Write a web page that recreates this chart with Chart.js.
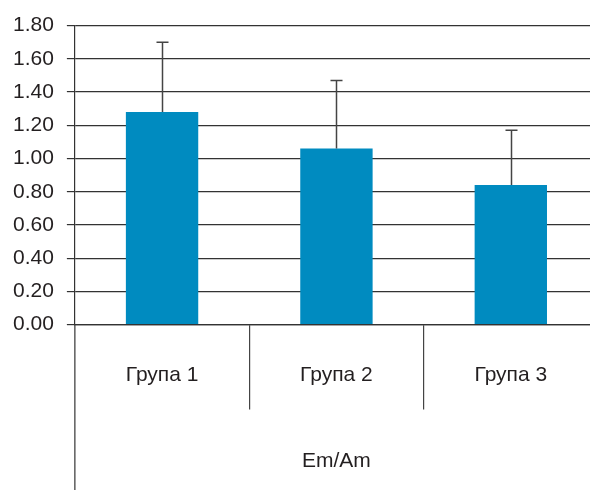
<!DOCTYPE html>
<html>
<head>
<meta charset="utf-8">
<script src="https://cdn.jsdelivr.net/npm/chart.js@4/dist/chart.umd.min.js"></script>
<style>
  html, body { margin: 0; padding: 0; background: #ffffff; overflow: hidden; }
  #wrap { width: 590px; height: 494px; overflow: hidden; }
  #chart { display: block; }
</style>
</head>
<body>
<div id="wrap"><canvas id="chart" width="598" height="494"></canvas></div>
<script>
// Groups, mean values and their upper error (SD)
const categories = ['Група 1', 'Група 2', 'Група 3'];
const means = [1.28, 1.06, 0.84];
const errors = [0.42, 0.41, 0.33];
const axisTitle = 'Em/Am';
const yMin = 0;
const yMax = 1.8;
const yStep = 0.2;

const barColor = '#008bc0';
const lineColor = '#333333';
const textColor = '#231f20';
const fontFamily = '"Liberation Sans", Arial, sans-serif';

// Upper error whiskers drawn through the y scale
const errorBars = {
  id: 'errorBars',
  afterDatasetsDraw(chart) {
    const ctx = chart.ctx;
    const ys = chart.scales.y;
    const meta = chart.getDatasetMeta(0);
    ctx.save();
    ctx.strokeStyle = '#444444';
    ctx.lineWidth = 1.5;
    meta.data.forEach((bar, i) => {
      const x = Math.round(bar.x) + 0.5;
      const yBase = ys.getPixelForValue(means[i]);
      const yTop = ys.getPixelForValue(means[i] + errors[i]);
      ctx.beginPath();
      ctx.moveTo(x, yBase);
      ctx.lineTo(x, yTop);
      ctx.moveTo(x - 6, yTop);
      ctx.lineTo(x + 6, yTop);
      ctx.stroke();
    });
    ctx.restore();
  }
};

// The value axis line continues down past the category band
const axisExtension = {
  id: 'axisExtension',
  afterDraw(chart) {
    const ctx = chart.ctx;
    const area = chart.chartArea;
    ctx.save();
    ctx.strokeStyle = lineColor;
    ctx.lineWidth = 1.2;
    ctx.beginPath();
    ctx.moveTo(area.left, area.bottom);
    ctx.lineTo(area.left, chart.height - 4);
    ctx.stroke();
    ctx.restore();
  }
};

new Chart(document.getElementById('chart'), {
  type: 'bar',
  data: {
    labels: categories,
    datasets: [{
      data: means,
      backgroundColor: barColor,
      borderWidth: 0,
      categoryPercentage: 1,
      barPercentage: 0.415
    }]
  },
  options: {
    responsive: false,
    animation: false,
    devicePixelRatio: 1,
    layout: { padding: { top: 24, left: 0, right: 0, bottom: 0 } },
    plugins: {
      legend: { display: false },
      tooltip: { enabled: false }
    },
    scales: {
      x: {
        grid: {
          offset: true,
          drawOnChartArea: false,
          drawTicks: true,
          tickLength: 85,
          lineWidth: 1.2,
          color: (c) => (c.type === 'tick' && c.index > 0) ? '#444444' : 'rgba(0,0,0,0)'
        },
        border: { display: true, color: lineColor, width: 1.2 },
        ticks: {
          padding: -47,
          color: textColor,
          font: { family: fontFamily, size: 21 }
        },
        title: {
          display: true,
          text: axisTitle,
          color: textColor,
          font: { family: fontFamily, size: 21 },
          padding: { top: 108, bottom: 20 }
        }
      },
      y: {
        min: yMin,
        max: yMax,
        ticks: {
          stepSize: yStep,
          padding: 13,
          color: textColor,
          font: { family: fontFamily, size: 21 },
          callback: (v) => Number(v).toFixed(2)
        },
        grid: {
          color: lineColor,
          lineWidth: 1.2,
          tickLength: 8
        },
        border: { display: true, color: lineColor, width: 1.2 }
      }
    }
  },
  plugins: [errorBars, axisExtension]
});
</script>
</body>
</html>
